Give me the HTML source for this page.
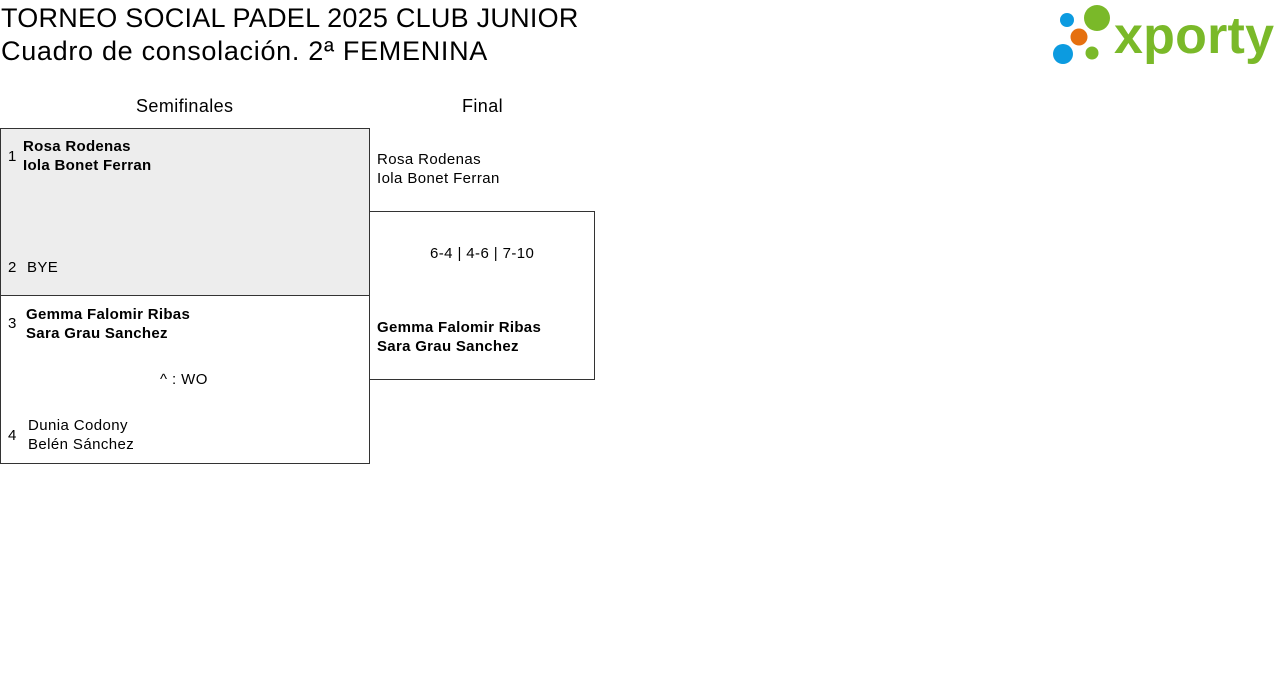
<!DOCTYPE html>
<html><head><meta charset="utf-8"><style>
body{margin:0;width:1280px;height:694px;background:#fff;position:relative;font-family:"Liberation Sans",sans-serif;color:#000;overflow:hidden}
div{position:absolute;white-space:nowrap}
.t{font-size:27px;letter-spacing:0.25px;line-height:32px;left:1px}
.t2{letter-spacing:0.7px}
.h{font-size:18px;letter-spacing:0.4px}
.n{font-size:15px;line-height:19px;letter-spacing:0.4px}
.b{font-weight:bold;letter-spacing:0.3px}
.box{border:1px solid #333;box-sizing:border-box}
</style></head><body>
<div class="t" style="top:2px">TORNEO SOCIAL PADEL 2025 CLUB JUNIOR</div>
<div class="t t2" style="top:35px">Cuadro de consolación. 2ª FEMENINA</div>
<svg style="position:absolute;left:1050px;top:3px" width="230" height="64">
<circle cx="17" cy="17" r="7" fill="#0c9be0"/>
<circle cx="47" cy="15" r="13" fill="#7ab929"/>
<circle cx="29" cy="34" r="8.5" fill="#e5700f"/>
<circle cx="13" cy="51" r="10" fill="#0c9be0"/>
<circle cx="42" cy="50" r="6.5" fill="#7ab929"/>
<text x="64" y="50" font-family="Liberation Sans" font-weight="bold" font-size="52" fill="#7ab929" letter-spacing="0" textLength="160">xporty</text>
</svg>
<div class="h" style="left:136px;top:96px">Semifinales</div>
<div class="h" style="left:462px;top:96px">Final</div>
<div class="box" style="left:0;top:128px;width:370px;height:168px;background:#ededed"></div>
<div class="box" style="left:0;top:295px;width:370px;height:169px"></div>
<div class="box" style="left:369px;top:211px;width:226px;height:169px"></div>
<div class="n" style="left:8px;top:147px">1</div>
<div class="n b" style="left:23px;top:137px">Rosa Rodenas<br>Iola Bonet Ferran</div>
<div class="n" style="left:8px;top:258px">2</div>
<div class="n" style="left:27px;top:258px">BYE</div>
<div class="n" style="left:8px;top:314px">3</div>
<div class="n b" style="left:26px;top:305px">Gemma Falomir Ribas<br>Sara Grau Sanchez</div>
<div class="n" style="left:160px;top:370px">^ : WO</div>
<div class="n" style="left:8px;top:426px">4</div>
<div class="n" style="left:28px;top:416px">Dunia Codony<br>Belén Sánchez</div>
<div class="n" style="left:377px;top:150px">Rosa Rodenas<br>Iola Bonet Ferran</div>
<div class="n" style="left:430px;top:244px">6-4 | 4-6 | 7-10</div>
<div class="n b" style="left:377px;top:318px">Gemma Falomir Ribas<br>Sara Grau Sanchez</div>
</body></html>
